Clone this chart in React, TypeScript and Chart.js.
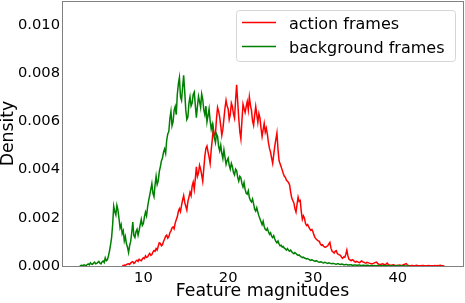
import { useEffect, useRef } from "react";
import { Chart, registerables } from "chart.js";

Chart.register(...registerables);

// Bin centres (feature magnitude), 8 bins per row
const magnitudes: number[] = [
  2.5, 2.625, 2.75, 2.875, 3, 3.125, 3.25, 3.375,
  3.5, 3.625, 3.75, 3.875, 4, 4.125, 4.25, 4.375,
  4.5, 4.625, 4.75, 4.875, 5, 5.125, 5.25, 5.375,
  5.5, 5.625, 5.75, 5.875, 6, 6.125, 6.25, 6.375,
  6.5, 6.625, 6.75, 6.875, 7, 7.125, 7.25, 7.375,
  7.5, 7.625, 7.75, 7.875, 8, 8.125, 8.25, 8.375,
  8.5, 8.625, 8.75, 8.875, 9, 9.125, 9.25, 9.375,
  9.5, 9.625, 9.75, 9.875, 10, 10.125, 10.25, 10.375,
  10.5, 10.625, 10.75, 10.875, 11, 11.125, 11.25, 11.375,
  11.5, 11.625, 11.75, 11.875, 12, 12.125, 12.25, 12.375,
  12.5, 12.625, 12.75, 12.875, 13, 13.125, 13.25, 13.375,
  13.5, 13.625, 13.75, 13.875, 14, 14.125, 14.25, 14.375,
  14.5, 14.625, 14.75, 14.875, 15, 15.125, 15.25, 15.375,
  15.5, 15.625, 15.75, 15.875, 16, 16.125, 16.25, 16.375,
  16.5, 16.625, 16.75, 16.875, 17, 17.125, 17.25, 17.375,
  17.5, 17.625, 17.75, 17.875, 18, 18.125, 18.25, 18.375,
  18.5, 18.625, 18.75, 18.875, 19, 19.125, 19.25, 19.375,
  19.5, 19.625, 19.75, 19.875, 20, 20.125, 20.25, 20.375,
  20.5, 20.625, 20.75, 20.875, 21, 21.125, 21.25, 21.375,
  21.5, 21.625, 21.75, 21.875, 22, 22.125, 22.25, 22.375,
  22.5, 22.625, 22.75, 22.875, 23, 23.125, 23.25, 23.375,
  23.5, 23.625, 23.75, 23.875, 24, 24.125, 24.25, 24.375,
  24.5, 24.625, 24.75, 24.875, 25, 25.125, 25.25, 25.375,
  25.5, 25.625, 25.75, 25.875, 26, 26.125, 26.25, 26.375,
  26.5, 26.625, 26.75, 26.875, 27, 27.125, 27.25, 27.375,
  27.5, 27.625, 27.75, 27.875, 28, 28.125, 28.25, 28.375,
  28.5, 28.625, 28.75, 28.875, 29, 29.125, 29.25, 29.375,
  29.5, 29.625, 29.75, 29.875, 30, 30.125, 30.25, 30.375,
  30.5, 30.625, 30.75, 30.875, 31, 31.125, 31.25, 31.375,
  31.5, 31.625, 31.75, 31.875, 32, 32.125, 32.25, 32.375,
  32.5, 32.625, 32.75, 32.875, 33, 33.125, 33.25, 33.375,
  33.5, 33.625, 33.75, 33.875, 34, 34.125, 34.25, 34.375,
  34.5, 34.625, 34.75, 34.875, 35, 35.125, 35.25, 35.375,
  35.5, 35.625, 35.75, 35.875, 36, 36.125, 36.25, 36.375,
  36.5, 36.625, 36.75, 36.875, 37, 37.125, 37.25, 37.375,
  37.5, 37.625, 37.75, 37.875, 38, 38.125, 38.25, 38.375,
  38.5, 38.625, 38.75, 38.875, 39, 39.125, 39.25, 39.375,
  39.5, 39.625, 39.75, 39.875, 40, 40.125, 40.25, 40.375,
  40.5, 40.625, 40.75, 40.875, 41, 41.125, 41.25, 41.375,
  41.5, 41.625, 41.75, 41.875, 42, 42.125, 42.25, 42.375,
  42.5, 42.625, 42.75, 42.875, 43, 43.125, 43.25, 43.375,
  43.5, 43.625, 43.75, 43.875, 44, 44.125, 44.25, 44.375,
  44.5, 44.625, 44.75, 44.875, 45, 45.125, 45.25, 45.375,
  45.5,
];

// Density of action frames (red), aligned with magnitudes
const actionDensity: (number | null)[] = [
  null, null, null, null, null, null, null, null,
  null, null, null, null, null, null, null, null,
  null, null, null, null, null, null, null, null,
  null, null, null, null, null, null, null, null,
  null, null, null, null, null, null, null, null,
  0.00002, 0.00001, 0.00004, 0.00003, 0.00006, 0.00008, 0.00009, 0.00006,
  0.00012, 0.00016, 0.00018, 0.00011, 0.00014, 0.00021, 0.00024, 0.00019,
  0.00028, 0.00024, 0.00022, 0.00029, 0.00034, 0.00031, 0.00042, 0.00036,
  0.00038, 0.00046, 0.00052, 0.00044, 0.00048, 0.00058, 0.00064, 0.00061,
  0.00072, 0.00066, 0.00082, 0.00096, 0.00094, 0.00084, 0.00088, 0.00102,
  0.00112, 0.00124, 0.00128, 0.00116, 0.00122, 0.00138, 0.00146, 0.00158,
  0.00162, 0.00154, 0.00178, 0.00192, 0.00204, 0.00226, 0.00238, 0.00226,
  0.00252, 0.00274, 0.00292, 0.00264, 0.00248, 0.00232, 0.00268, 0.00286,
  0.00306, 0.00292, 0.00332, 0.00348, 0.00318, 0.00362, 0.00412, 0.00372,
  0.00386, 0.00418, 0.00402, 0.00378, 0.00352, 0.00404, 0.00456, 0.00488,
  0.00498, 0.00474, 0.00452, 0.00426, 0.00482, 0.00524, 0.00572, 0.00538,
  0.00548, 0.00612, 0.00658, 0.00642, 0.00618, 0.00582, 0.00542, 0.00568,
  0.00612, 0.00656, 0.00688, 0.00664, 0.00652, 0.00608, 0.00628, 0.00676,
  0.00662, 0.00632, 0.00614, 0.00688, 0.00752, 0.00682, 0.00612, 0.00558,
  0.00528, 0.00604, 0.00672, 0.00654, 0.00638, 0.00662, 0.00682, 0.00648,
  0.00702, 0.00668, 0.00646, 0.00602, 0.00584, 0.00626, 0.00662, 0.00628,
  0.00596, 0.00632, 0.00614, 0.00572, 0.00538, 0.00566, 0.00592, 0.00556,
  0.00572, 0.00546, 0.00512, 0.00488, 0.00472, 0.00448, 0.00426, 0.00462,
  0.00498, 0.00526, 0.00552, 0.00486, 0.00438, 0.00424, 0.00412, 0.00398,
  0.00384, 0.00372, 0.00368, 0.00356, 0.00352, 0.00346, 0.00336, 0.00306,
  0.00282, 0.00272, 0.00262, 0.00238, 0.00224, 0.00256, 0.00286, 0.00268,
  0.00272, 0.00226, 0.00194, 0.00208, 0.00198, 0.00176, 0.00168, 0.00172,
  0.00162, 0.00154, 0.00148, 0.00152, 0.00142, 0.00128, 0.00118, 0.00112,
  0.00108, 0.00104, 0.00102, 0.00092, 0.00086, 0.00088, 0.00082, 0.00079,
  0.00078, 0.00081, 0.00084, 0.00092, 0.00098, 0.00074, 0.00062, 0.00058,
  0.00054, 0.00061, 0.00064, 0.00052, 0.00048, 0.00046, 0.00044, 0.00036,
  0.00032, 0.00038, 0.00036, 0.00048, 0.00066, 0.00042, 0.00028, 0.00025,
  0.00022, 0.00026, 0.00024, 0.00019, 0.00016, 0.00019, 0.00018, 0.00015,
  0.00014, 0.00018, 0.00021, 0.00017, 0.00016, 0.00013, 0.00012, 0.00015,
  0.00014, 0.00012, 0.00011, 0.00009, 0.00009, 0.00011, 0.00013, 0.00015,
  0.00016, 0.00011, 0.00008, 0.00006, 0.00006, 0.00008, 0.00009, 0.00006,
  0.00005, 0.00008, 0.00012, 0.00007, 0.00004, 0.00003, 0.00003, 0.00004,
  0.00005, 0.00003, 0.00002, 0.00002, 0.00003, 0.00003, 0.00004, 0.00002,
  0.00002, 0.00004, 0.00006, 0.00008, 0.0001, 0.00005, 0.00002, 0.00001,
  0.00001, 0.00002, 0.00002, 0.00001, 0.00001, 0.00002, 0.00003, 0.00001,
  0.00001, 0.00001, 0.00001, 0.00002, 0.00002, 0.00001, 0.00001, 0.00001,
  0.00001, 0.00002, 0.00001, 0.00001, 0.00001, 0.00001, 0.00001, 0.00002,
  0.00001, 0.00001, 0.00002, 0.00001, 0.00003, 0.00002, 0.00001, 0.00001,
  0,
];

// Density of background frames (green), aligned with magnitudes
const backgroundDensity: (number | null)[] = [
  0, 0.00002, 0.00003, 0.00001, 0.00005, 0.00003, 0.00002, 0.00006,
  0.00009, 0.00005, 0.00013, 0.00008, 0.00007, 0.00012, 0.00016, 0.00009,
  0.00011, 0.00015, 0.00019, 0.00012, 0.00009, 0.00017, 0.00021, 0.00014,
  0.00034, 0.00022, 0.00026, 0.00041, 0.00062, 0.00088, 0.00118, 0.00172,
  0.00248, 0.00226, 0.00212, 0.00252, 0.00232, 0.00196, 0.00158, 0.00172,
  0.00134, 0.00146, 0.00104, 0.00122, 0.00092, 0.00078, 0.00056, 0.00084,
  0.00102, 0.00138, 0.00182, 0.00126, 0.00118, 0.00142, 0.00152, 0.00128,
  0.00148, 0.00172, 0.00194, 0.00168, 0.00176, 0.00204, 0.00224, 0.00208,
  0.00246, 0.00272, 0.00294, 0.00318, 0.00342, 0.00302, 0.00288, 0.00336,
  0.00372, 0.00338, 0.00352, 0.00392, 0.00412, 0.00436, 0.00448, 0.00472,
  0.00486, 0.00468, 0.00522, 0.00548, 0.00558, 0.00612, 0.00642, 0.00582,
  0.00598, 0.00646, 0.00662, 0.00628, 0.00712, 0.00756, 0.00782, 0.00702,
  0.00688, 0.00742, 0.00792, 0.00724, 0.00648, 0.00608, 0.00618, 0.00676,
  0.00702, 0.00664, 0.00676, 0.00712, 0.00722, 0.00668, 0.00616, 0.00662,
  0.00704, 0.00682, 0.00658, 0.00714, 0.00692, 0.00648, 0.00628, 0.00664,
  0.00598, 0.00624, 0.00652, 0.00602, 0.00568, 0.00588, 0.00556, 0.00532,
  0.00512, 0.00548, 0.00538, 0.00496, 0.00478, 0.00502, 0.00468, 0.00446,
  0.00482, 0.00452, 0.00422, 0.00438, 0.00448, 0.00418, 0.00402, 0.00426,
  0.00412, 0.00388, 0.00378, 0.00402, 0.00396, 0.00368, 0.00352, 0.00372,
  0.00366, 0.00342, 0.00328, 0.00346, 0.00318, 0.00302, 0.00298, 0.00312,
  0.00284, 0.00272, 0.00266, 0.00278, 0.00258, 0.00236, 0.00228, 0.00242,
  0.00224, 0.00208, 0.00196, 0.00184, 0.00172, 0.00186, 0.00164, 0.00152,
  0.00148, 0.00156, 0.00142, 0.00132, 0.00138, 0.00124, 0.00118, 0.00126,
  0.00112, 0.00102, 0.00096, 0.00104, 0.00092, 0.00084, 0.00086, 0.00079,
  0.00081, 0.00074, 0.00071, 0.00066, 0.00072, 0.00064, 0.00061, 0.00066,
  0.00059, 0.00054, 0.00051, 0.00056, 0.00052, 0.00047, 0.00044, 0.00046,
  0.00041, 0.00038, 0.00035, 0.00037, 0.00033, 0.00031, 0.00029, 0.00031,
  0.00028, 0.00025, 0.00023, 0.00026, 0.00023, 0.00021, 0.00019, 0.00022,
  0.0002, 0.00017, 0.00016, 0.00018, 0.00017, 0.00014, 0.00013, 0.00015,
  0.00014, 0.00012, 0.00011, 0.00013, 0.00012, 0.0001, 0.00009, 0.00011,
  0.0001, 0.00008, 0.00007, 0.00009, 0.00009, 0.00007, 0.00006, 0.00008,
  0.00007, 0.00005, 0.00005, 0.00006, 0.00006, 0.00004, 0.00004, 0.00005,
  0.00005, 0.00003, 0.00003, 0.00004, 0.00004, 0.00003, 0.00003, 0.00004,
  0.00004, 0.00002, 0.00002, 0.00003, 0.00003, 0.00002, 0.00002, 0.00003,
  0.00003, 0.00001, 0.00001, 0.00002, 0.00002, 0.00001, 0.00002, 0.00001,
  0.00001, 0.00002, 0.00002, 0.00001, 0.00001, 0.00001, 0.00001, 0.00002,
  0.00002, 0.00001, 0.00001, 0, 0.00001, 0.00001, 0, 0.00001,
  0.00001, 0, 0.00001, 0.00001, 0, 0.00001, 0.00001, 0,
  0, 0.00001, 0.00001, 0, 0, 0, 0, 0,
];

const xTicks = [10, 20, 30, 40];
const yTicks = [0, 0.002, 0.004, 0.006, 0.008, 0.01];
const seriesNames = ["action frames", "background frames"];
const seriesColors = ["#ff0000", "#008000"];
const xTitle = "Feature magnitudes";
const yTitle = "Density";

const FONT = '"DejaVu Sans", sans-serif';

function toPoints(vals: (number | null)[]) {
  const pts: { x: number; y: number }[] = [];
  vals.forEach((v, i) => {
    if (v !== null && v !== undefined && i < magnitudes.length) pts.push({ x: magnitudes[i], y: v });
  });
  return pts;
}

const framePlugin = {
  id: "frameAndLegend",
  afterDraw(chart: any) {
    const { ctx, chartArea } = chart;
    const { left, right, top, bottom } = chartArea;
    ctx.save();
    ctx.strokeStyle = "#808080";
    ctx.lineWidth = 1;
    ctx.strokeRect(left + 0.5, top + 0.5, right - left, bottom - top);

    // legend
    const bx = 236.5, by = 10.5, bw = 219, bh = 51, r = 3;
    ctx.beginPath();
    ctx.moveTo(bx + r, by);
    ctx.lineTo(bx + bw - r, by);
    ctx.arcTo(bx + bw, by, bx + bw, by + r, r);
    ctx.lineTo(bx + bw, by + bh - r);
    ctx.arcTo(bx + bw, by + bh, bx + bw - r, by + bh, r);
    ctx.lineTo(bx + r, by + bh);
    ctx.arcTo(bx, by + bh, bx, by + bh - r, r);
    ctx.lineTo(bx, by + r);
    ctx.arcTo(bx, by, bx + r, by, r);
    ctx.closePath();
    ctx.fillStyle = "rgba(255,255,255,0.8)";
    ctx.fill();
    ctx.strokeStyle = "#d5d5d5";
    ctx.stroke();

    const rows = [22.5, 46.5];
    seriesNames.forEach((name, i) => {
      ctx.strokeStyle = seriesColors[i];
      ctx.lineWidth = 1.5;
      ctx.beginPath();
      ctx.moveTo(242, rows[i]);
      ctx.lineTo(276, rows[i]);
      ctx.stroke();
      ctx.fillStyle = "#000";
      ctx.font = `16px ${FONT}`;
      ctx.textBaseline = "alphabetic";
      ctx.textAlign = "left";
      ctx.fillText(name, 289, rows[i] + 6);
    });
    ctx.restore();
  },
};

export default function App() {
  const ref = useRef<HTMLCanvasElement | null>(null);
  useEffect(() => {
    if (!ref.current) return;
    const chart = new Chart(ref.current, {
      type: "line",
      data: {
        datasets: [
          {
            label: seriesNames[0],
            data: toPoints(actionDensity),
            borderColor: seriesColors[0],
            backgroundColor: seriesColors[0],
            borderWidth: 1.5,
            pointRadius: 0,
            tension: 0,
            order: 1,
          },
          {
            label: seriesNames[1],
            data: toPoints(backgroundDensity),
            borderColor: seriesColors[1],
            backgroundColor: seriesColors[1],
            borderWidth: 1.5,
            pointRadius: 0,
            tension: 0,
            order: 0,
          },
        ],
      },
      options: {
        animation: false,
        responsive: false,
        devicePixelRatio: 1,
        layout: { padding: { top: 1, right: 2, left: 0, bottom: 0 } },
        plugins: { legend: { display: false }, tooltip: { enabled: false } },
        scales: {
          x: {
            type: "linear",
            min: 0.4,
            max: 47.7,
            afterBuildTicks: (s: any) => {
              s.ticks = xTicks.map((v) => ({ value: v }));
            },
            afterFit: (s: any) => {
              s.height = 37;
              s.paddingLeft = 0;
              s.paddingRight = 0;
            },
            ticks: {
              font: { family: FONT, size: 14.7 },
              color: "#000",
              padding: 3,
              maxRotation: 0,
              autoSkip: false,
              callback: (v: any) => String(v),
            },
            grid: { display: false, drawTicks: false },
            border: { display: false },
            title: {
              display: true,
              text: xTitle,
              color: "#000",
              font: { family: FONT, size: 17.3, lineHeight: 1 },
              padding: { top: 0, bottom: 3 },
            },
          },
          y: {
            type: "linear",
            min: 0,
            max: 0.011,
            afterBuildTicks: (s: any) => {
              s.ticks = yTicks.map((v) => ({ value: v }));
            },
            afterFit: (s: any) => {
              s.width = 62;
              s.paddingTop = 0;
              s.paddingBottom = 0;
            },
            ticks: {
              font: { family: FONT, size: 14.7 },
              color: "#000",
              padding: 2,
              autoSkip: false,
              callback: (v: any) => Number(v).toFixed(3),
            },
            grid: { display: false, drawTicks: false },
            border: { display: false },
            title: {
              display: true,
              text: yTitle,
              color: "#000",
              font: { family: FONT, size: 17.3, lineHeight: 1 },
              padding: { top: 0, bottom: 0 },
            },
          },
        },
      } as any,
      plugins: [framePlugin],
    });
    return () => chart.destroy();
  }, []);

  return (
    <div style={{ position: "fixed", left: 0, top: 0, width: 465, height: 303, background: "#fff" }}>
      <canvas ref={ref} width={465} height={303} style={{ display: "block" }} />
    </div>
  );
}
